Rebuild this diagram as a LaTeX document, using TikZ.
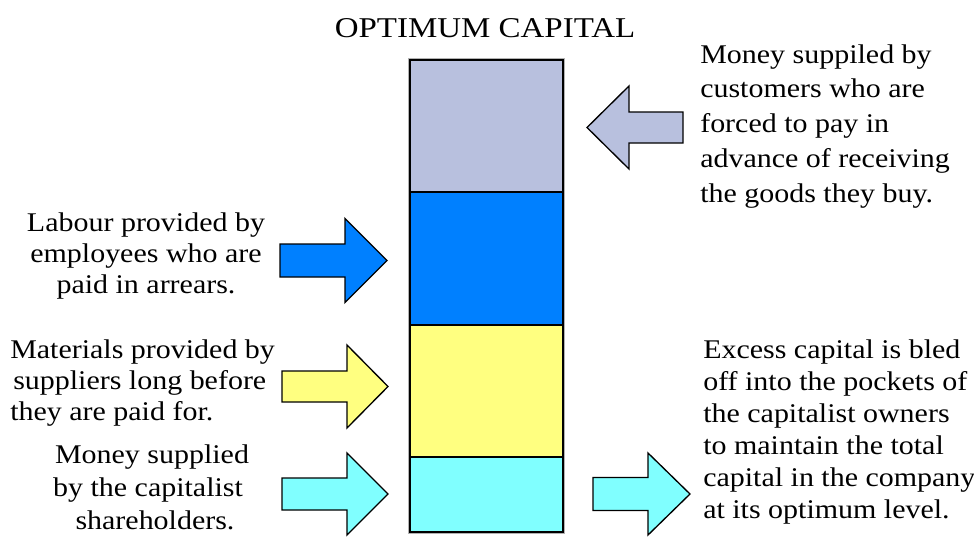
\documentclass[tikz,border=0pt]{standalone}
\usepackage{graphicx}
\usepackage{fontspec}
\setmainfont{Liberation Serif}
\definecolor{lav}{RGB}{184,192,222}
\definecolor{bblue}{RGB}{0,128,255}
\definecolor{byellow}{RGB}{255,255,128}
\definecolor{bcyan}{RGB}{128,255,255}
\newcommand\blockarrow[7]{%
  \draw[barrow,fill=#7] (#1,#4-#5) -- (#2,#4-#5) -- (#2,#4-#6) -- (#3,#4)
    -- (#2,#4+#6) -- (#2,#4+#5) -- (#1,#4+#5) -- cycle;}
\newcommand\wtxt[1]{\scalebox{1.11}[1]{#1}}
\begin{document}
\begin{tikzpicture}[x=0.75pt,y=-0.75pt,
  blk/.style={draw=black,line width=1.1pt},
  barrow/.style={draw=black,line width=1.0pt,line join=miter},
  txt/.style={inner sep=0pt,font=\fontsize{20.25}{24}\selectfont},
  ttl/.style={inner sep=0pt,font=\fontsize{21.5}{26}\selectfont}]
\useasboundingbox (0,0) rectangle (974,536);
% column
\draw[gray!60,line width=2.4pt] (410,60) rectangle (563,532);
\draw[blk,fill=lav] (410,60) rectangle (563,192);
\draw[blk,fill=bblue] (410,192) rectangle (563,325);
\draw[blk,fill=byellow] (410,325) rectangle (563,457);
\draw[blk,fill=bcyan] (410,457) rectangle (563,532);
% arrows
\blockarrow{280}{345}{387}{260.5}{16.5}{42}{bblue}
\blockarrow{282}{347}{388}{386.5}{15.5}{41.5}{byellow}
\blockarrow{282}{347}{388}{494}{16}{41}{bcyan}
\blockarrow{593}{648}{690}{494}{16.5}{41}{bcyan}
\blockarrow{683}{629}{587}{127.5}{15.5}{41.5}{lav}
% title
\node[ttl,anchor=base] (title) at (485,37) {\scalebox{1.15}[1]{OPTIMUM CAPITAL}};
% top right
\node[txt,anchor=base west] (tr1) at (700,63) {\wtxt{Money suppiled by}};
\node[txt,anchor=base west] (tr2) at (700,97.75) {\wtxt{customers who are}};
\node[txt,anchor=base west] (tr3) at (700,132.5) {\wtxt{forced to pay in}};
\node[txt,anchor=base west] (tr4) at (700,167.25) {\wtxt{advance of receiving}};
\node[txt,anchor=base west] (tr5) at (700,202) {\wtxt{the goods they buy.}};
% labour
\node[txt,anchor=base] (la1) at (146,231) {\wtxt{Labour provided by}};
\node[txt,anchor=base] (la2) at (146,262) {\wtxt{employees who are}};
\node[txt,anchor=base] (la3) at (146,293) {\wtxt{paid in arrears.}};
% materials
\node[txt,anchor=base west] (ma1) at (10,358) {\wtxt{Materials provided by}};
\node[txt,anchor=base west] (ma2) at (13,389) {\wtxt{suppliers long before}};
\node[txt,anchor=base west] (ma3) at (10,420) {\wtxt{they are paid for.}};
% money supplied
\node[txt,anchor=base] (mo1) at (152,463) {\wtxt{Money supplied}};
\node[txt,anchor=base] (mo2) at (148,496) {\wtxt{by the capitalist}};
\node[txt,anchor=base] (mo3) at (155,529) {\wtxt{shareholders.}};
% excess
\node[txt,anchor=base west] (ex1) at (703,358) {\wtxt{Excess capital is bled}};
\node[txt,anchor=base west] (ex2) at (703,390) {\wtxt{off into the pockets of}};
\node[txt,anchor=base west] (ex3) at (703,422) {\wtxt{the capitalist owners}};
\node[txt,anchor=base west] (ex4) at (703,454) {\wtxt{to maintain the total}};
\node[txt,anchor=base west] (ex5) at (703,486) {\wtxt{capital in the company}};
\node[txt,anchor=base west] (ex6) at (703,518) {\wtxt{at its optimum level.}};
\end{tikzpicture}
\end{document}
